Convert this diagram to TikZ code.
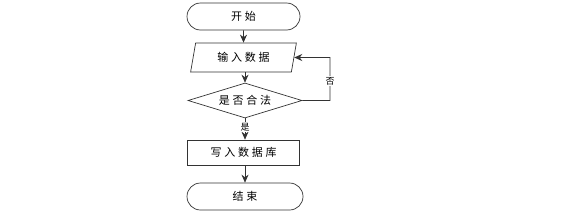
\documentclass[tikz,border=0pt]{standalone}
\usepackage{fontspec}
\newfontfamily\cjk[LetterSpace=25]{Noto Sans CJK SC}
\newfontfamily\cjklbl{Noto Sans CJK SC}
\usetikzlibrary{shapes.geometric,shapes.misc,arrows.meta}
\begin{document}
\begin{tikzpicture}[x=1pt,y=-1pt,
  every node/.style={font=\cjk\fontsize{11}{13}\selectfont},
  base/.style={draw=black!80,line width=0.7pt,minimum width=113pt,minimum height=27pt,inner sep=0pt},
  term/.style={base,rounded rectangle},
  io/.style={base,trapezium,trapezium left angle=75,trapezium right angle=105,minimum width=95pt,trapezium stretches=true,minimum height=29pt},
  dec/.style={base,diamond,aspect=3.3,minimum width=114pt,minimum height=35pt},
  proc/.style={base,rectangle,minimum width=112pt,minimum height=25pt},
  lbl/.style={font=\cjklbl\fontsize{9}{10}\selectfont,fill=white,inner sep=1pt},
  conn/.style={draw=black!80,line width=0.7pt,-{Stealth[length=8pt,width=7pt]}}]
\useasboundingbox (0,0) rectangle (583,220);
\node[term] (start) at (243.5,16.5) {开始};
\node[io,minimum width=106pt] (input) at (243.5,57.5) {输入数据};
\node[dec] (check) at (245,100.5) {是否合法};
\node[proc] (write) at (243.5,152.5) {写入数据库};
\node[term,minimum width=116pt] (end) at (245,196.5) {结束};
\coordinate (c1) at (330,100.5);
\coordinate (c2) at (330,57.5);
\draw[conn] (start) -- (input);
\draw[conn] (input.south -| check.north) -- (check.north);
\draw[conn] (check.south) -- node[lbl,pos=0.4]{是} (write.north -| check.south);
\draw[conn] (write.south -| end.north) -- (end.north);
\draw[conn] (check.east) -- (c1) -- node[lbl,pos=0.45]{否} (c2) -- (input.east);
\end{tikzpicture}
\end{document}
